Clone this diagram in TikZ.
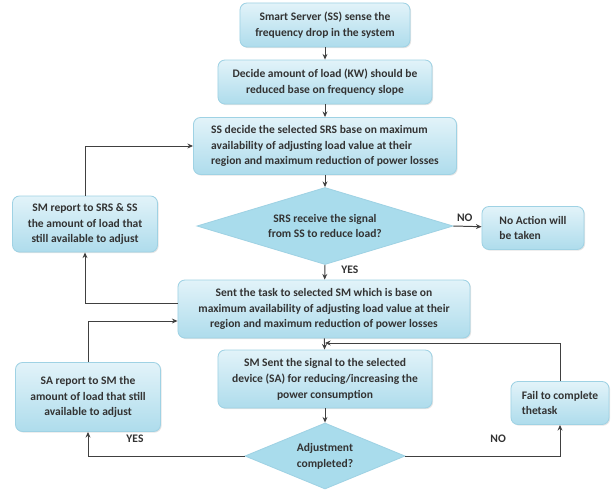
\documentclass[tikz,border=0pt]{standalone}
\usepackage{fontspec}
\setmainfont{Carlito}
\usetikzlibrary{calc,shapes.geometric,arrows.meta,shadows}
\definecolor{boxtop}{HTML}{E2F3F9}
\definecolor{boxbot}{HTML}{AEDCEC}
\definecolor{boxline}{HTML}{9FD2E4}
\definecolor{dia}{HTML}{A9DCEC}
\definecolor{txt}{HTML}{333333}
\definecolor{wire}{HTML}{404040}
\tikzset{
  flowbox/.style={rectangle, rounded corners=5pt, draw=boxline, line width=0.6pt,
    top color=boxtop, bottom color=boxbot, align=center, inner sep=2pt,
    font=\bfseries\fontsize{8.2}{11.3}\selectfont, text=txt,
    drop shadow={opacity=0.2, shadow xshift=0.8pt, shadow yshift=-0.8pt}},
  decide/.style={diamond, draw=boxline, line width=0.6pt, fill=dia, align=center,
    inner sep=0pt, font=\bfseries\fontsize{8.2}{11.3}\selectfont, text=txt},
  arr/.style={draw=wire, line width=0.7pt, -{Stealth[length=4pt,width=3.5pt]}},
  lbl/.style={font=\bfseries\fontsize{8.2}{10}\selectfont, text=txt}
}
\begin{document}
\begin{tikzpicture}[x=0.025cm, y=-0.025cm]
  \useasboundingbox[fill=white] (0,0) rectangle (613,489);
  % main column
  \node (sense) [flowbox, minimum width=4.25cm, minimum height=1.1cm] at (325,25)
    {Smart Server (SS) sense the\\frequency drop in the system};
  \node (amount) [flowbox, minimum width=5.35cm, minimum height=1.1cm] at (325,82)
    {Decide amount of load (KW) should be\\reduced base on frequency slope};
  \node (pick) [flowbox, minimum width=6.575cm, minimum height=1.425cm, align=left] at (325,146)
    {SS decide the selected SRS base on maximum\\availability of adjusting load value at their\\region and maximum reduction of power losses};
  \node (recv) [decide, aspect=3.3, minimum width=6.4cm, minimum height=1.925cm] at (325,226)
    {SRS receive the signal\\from SS to reduce load?};
  \node (noact) [flowbox, minimum width=2.55cm, minimum height=1.075cm, align=left] at (533,228)
    {No Action will\\be taken};
  \node (task) [flowbox, minimum width=7.3cm, minimum height=1.45cm] at (324,309)
    {Sent the task to selected SM which is base on\\maximum availability of adjusting load value at their\\region and maximum reduction of power losses};
  \node (signal) [flowbox, minimum width=5.35cm, minimum height=1.45cm] at (325,379)
    {SM Sent the signal to the selected\\device (SA) for reducing/increasing the\\power consumption};
  \node (adj) [decide, aspect=2.4, minimum width=4cm, minimum height=1.65cm] at (325,456)
    {Adjustment\\completed?};
  % side boxes
  \node (smrep) [flowbox, minimum width=3.625cm, minimum height=1.4cm] at (85,224)
    {SM report to SRS \& SS\\the amount of load that\\still available to adjust};
  \node (sarep) [flowbox, minimum width=3.625cm, minimum height=1.725cm] at (88,397)
    {SA report to SM the\\amount of load that still\\available to adjust};
  \node (fail) [flowbox, minimum width=2.45cm, minimum height=1.075cm, align=left] at (560,403)
    {Fail to complete\\thetask};
  \coordinate (join) at (325,343);

  \draw[arr] (sense) -- (amount);
  \draw[arr] (amount) -- (pick);
  \draw[arr] (pick) -- (recv);
  \draw[arr] (recv.east) -- node[lbl, above, pos=0.4] {NO} (noact);
  \draw[arr] (recv.south) -- node[lbl, right, pos=0.35, xshift=8pt] {YES} (task);
  \draw[arr] (task) -- (signal);
  \draw[arr] (signal) -- (adj);
  \draw[arr] (adj.west) -| node[lbl, above, pos=0.35, yshift=6pt] {YES} (sarep.south);
  \draw[arr] (adj.east) -| node[lbl, above, pos=0.3, yshift=6pt] {NO} (fail.south);
  \draw[arr] (fail.north) |- (join);
  \draw[arr] (sarep.north) |- ($(task.west)+(0,12)$);
  \draw[arr] ($(task.west)+(0,-6)$) -| (smrep.south);
  \draw[arr] (smrep.north) |- (pick.west);
\end{tikzpicture}
\end{document}
